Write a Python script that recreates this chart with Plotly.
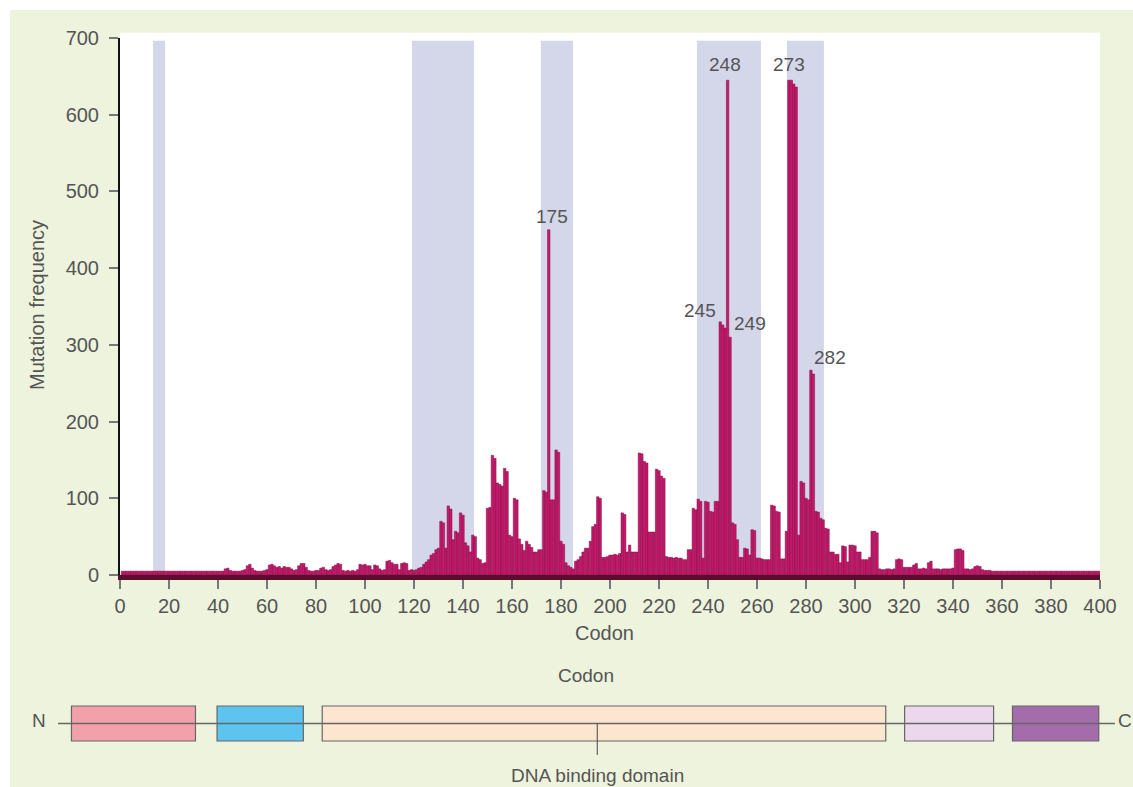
import plotly.graph_objects as go

W, H = 1133, 787

# ---------------- data ----------------
codons = list(range(1, 401))
frequency = [
    # 1-20
    5, 5, 5, 5, 5, 5, 5, 5, 5, 5, 5, 5, 5, 5, 5, 5, 5, 5, 5, 5,
    # 21-40
    5, 5, 5, 5, 5, 5, 5, 5, 5, 5, 5, 5, 5, 5, 5, 5, 5, 5, 5, 5,
    # 41-60
    5, 5, 8, 9, 6, 5, 5, 5, 5, 6, 7, 12, 14, 9, 6, 5, 5, 5, 6, 7,
    # 61-80
    13, 14, 12, 10, 11, 9, 11, 10, 10, 8, 6, 7, 12, 15, 15, 10, 6, 5, 5, 6,
    # 81-100
    6, 9, 10, 7, 6, 7, 11, 13, 15, 14, 6, 5, 6, 5, 6, 5, 7, 14, 13, 14,
    # 101-120
    12, 12, 7, 13, 12, 8, 6, 7, 18, 19, 16, 14, 14, 7, 15, 16, 15, 6, 7, 6,
    # 121-140
    7, 9, 10, 14, 17, 20, 26, 28, 33, 35, 70, 68, 35, 90, 86, 46, 57, 55, 81, 78,
    # 141-160
    42, 38, 30, 52, 50, 22, 20, 15, 16, 87, 88, 156, 152, 120, 118, 116, 139, 135, 52, 50,
    # 161-180
    100, 98, 47, 40, 32, 44, 40, 36, 30, 30, 33, 33, 110, 108, 450, 98, 98, 163, 160, 44,
    # 181-200
    40, 16, 12, 10, 8, 18, 20, 24, 30, 35, 35, 44, 63, 66, 102, 100, 23, 23, 24, 26,
    # 201-220
    26, 27, 26, 28, 81, 79, 30, 39, 30, 30, 30, 159, 158, 148, 146, 56, 56, 56, 138, 136,
    # 221-240
    129, 126, 24, 23, 23, 22, 23, 22, 22, 20, 20, 33, 33, 87, 85, 99, 96, 22, 96, 95,
    # 241-260
    83, 82, 96, 96, 330, 326, 322, 645, 310, 68, 66, 46, 23, 23, 35, 34, 26, 59, 58, 22,
    # 261-280
    22, 21, 20, 20, 20, 91, 90, 83, 82, 21, 21, 57, 645, 645, 640, 636, 52, 122, 120, 100,
    # 281-300
    98, 267, 262, 83, 82, 74, 72, 61, 60, 30, 30, 27, 27, 16, 38, 37, 17, 39, 39, 38,
    # 301-320
    30, 30, 20, 20, 20, 23, 57, 57, 55, 8, 7, 7, 8, 8, 7, 8, 20, 21, 20, 10,
    # 321-340
    10, 10, 10, 13, 15, 8, 8, 9, 8, 16, 18, 8, 8, 8, 7, 8, 8, 8, 8, 9,
    # 341-360
    33, 34, 34, 32, 8, 8, 7, 8, 11, 12, 11, 7, 6, 6, 6, 5, 5, 5, 5, 5,
    # 361-380
    5, 5, 5, 5, 5, 5, 5, 5, 5, 5, 5, 5, 5, 5, 5, 5, 5, 5, 5, 5,
    # 381-400
    5, 5, 5, 5, 5, 5, 5, 5, 5, 5, 5, 5, 5, 5, 5, 5, 5, 5, 5, 5,
]

# conserved regions (shaded bands), in codons
band_start = [13.5, 119.2, 171.8, 235.5, 272.2]
band_end = [18.4, 144.5, 184.9, 261.6, 287.3]

# labelled hotspot codons
peak_codons = [175, 248, 273, 245, 249, 282]

x_ticks = list(range(0, 401, 20))
y_ticks = list(range(0, 701, 100))

# protein domain map (residues)
protein_length = 393
domain_start = [6, 60, 99, 315, 355]
domain_end = [52, 92, 308, 348, 387]
domain_colors = ["#f2a0aa", "#5cc4ee", "#fde6cf", "#ecd8ec", "#a46caa"]
dbd_label_pos = 201

# ---------------- layout helpers ----------------
def px_x(px):
    return px / W

def px_y(py):
    return 1 - py / H

BG = "#eef3dd"
TXT = "#555555"
FONT = "Liberation Sans, Arial, sans-serif"

# label offsets (codon, value) relative to each labelled bar
label_offsets = {175: (1.3, 17), 248: (-1.1, 21), 273: (0.1, 21),
                 245: (-8.3, 15), 249: (8.1, 18), 282: (7.8, 17)}

fig = go.Figure()

fig.add_trace(go.Bar(
    x=codons, y=frequency, width=1,
    marker=dict(color="#c8176c", line=dict(color="#7a1242", width=0.5)),
    xaxis="x", yaxis="y", hoverinfo="skip",
))

# protein backbone
fig.add_trace(go.Scatter(
    x=[1, protein_length], y=[0.5, 0.5], mode="lines",
    line=dict(color="#666666", width=1.5),
    xaxis="x2", yaxis="y2", hoverinfo="skip",
))
# domains
fig.add_trace(go.Bar(
    y=[0.5] * len(domain_start),
    x=[e - s for s, e in zip(domain_start, domain_end)],
    base=domain_start, orientation="h", width=1,
    marker=dict(color=domain_colors, line=dict(color="#666666", width=1.2)),
    xaxis="x2", yaxis="y2", hoverinfo="skip",
))
# pointer for DNA binding domain
fig.add_trace(go.Scatter(
    x=[dbd_label_pos, dbd_label_pos], y=[0.5, -0.4], mode="lines",
    line=dict(color="#444444", width=1),
    xaxis="x2", yaxis="y2", hoverinfo="skip",
))

shapes = [
    dict(type="rect", xref="paper", yref="paper",
         x0=px_x(10), x1=1, y0=0, y1=px_y(10),
         fillcolor=BG, line=dict(width=0), layer="below"),
    dict(type="rect", xref="x domain", yref="y domain",
         x0=0, x1=1, y0=0, y1=1.01,
         fillcolor="white", line=dict(width=0), layer="below"),
]
for s, e in zip(band_start, band_end):
    shapes.append(dict(type="rect", xref="x", yref="y domain",
                       x0=s, x1=e, y0=0, y1=0.995,
                       fillcolor="#d4d6ea", line=dict(width=0), layer="below"))

annotations = []
for c in peak_codons:
    dx, dy = label_offsets[c]
    annotations.append(dict(
        x=c + dx, y=frequency[c - 1] + dy, xref="x", yref="y",
        text=str(c), showarrow=False, xanchor="center", yanchor="middle",
        font=dict(size=19, color=TXT, family=FONT)))

def paper_text(text, px, py, size=20, angle=0, xref="paper", x=None):
    return dict(x=px_x(px) if x is None else x, y=px_y(py), xref=xref, yref="paper",
                text=text, textangle=angle, showarrow=False,
                xanchor="center", yanchor="middle",
                font=dict(size=size, color=TXT, family=FONT))

annotations += [
    paper_text("Mutation frequency", 37, 305, 20, -90),
    paper_text("Codon", 604, 633, 20),
    paper_text("Codon", 586, 675, 19),
    paper_text("DNA binding domain", 0, 775, 19, xref="x2", x=dbd_label_pos),
    paper_text("N", 39, 720, 19),
    paper_text("C", 1125, 720, 19),
]

fig.update_layout(
    width=W, height=H,
    autosize=False,
    margin=dict(l=0, r=0, t=0, b=0, pad=0, autoexpand=False),
    paper_bgcolor="white",
    plot_bgcolor="rgba(0,0,0,0)",
    showlegend=False,
    hovermode=False,
    font=dict(family=FONT, color=TXT),
    shapes=shapes,
    annotations=annotations,
    xaxis=dict(
        domain=[px_x(120), px_x(1100)], range=[0, 400], anchor="y",
        automargin=False,
        tickvals=x_ticks, ticks="outside", ticklen=9, tickwidth=1.5,
        tickcolor="#777777", showline=True, linecolor="#5a0e2e", linewidth=5,
        showgrid=False, zeroline=False, ticklabelstandoff=0,
        tickfont=dict(size=20, color=TXT, family=FONT),
    ),
    yaxis=dict(
        domain=[px_y(575), px_y(38)], range=[0, 700], anchor="x",
        automargin=False,
        tickvals=y_ticks, ticks="outside", ticklen=9, tickwidth=1.5,
        tickcolor="#777777", showline=True, linecolor="#111111", linewidth=2,
        showgrid=False, zeroline=False, ticklabelstandoff=6,
        tickfont=dict(size=20, color=TXT, family=FONT),
    ),
    xaxis2=dict(domain=[0, 1], range=[-20.5, 399.7], anchor="y2",
                visible=False, fixedrange=True, automargin=False),
    yaxis2=dict(domain=[px_y(760), px_y(700)], range=[-0.543, 1.171],
                anchor="x2", visible=False, fixedrange=True, automargin=False),
)

fig.write_html(
    "out.html",
    config={"displayModeBar": False},
    post_script="document.body.style.margin='0px';document.body.style.padding='0px';document.body.style.overflow='hidden';",
)
